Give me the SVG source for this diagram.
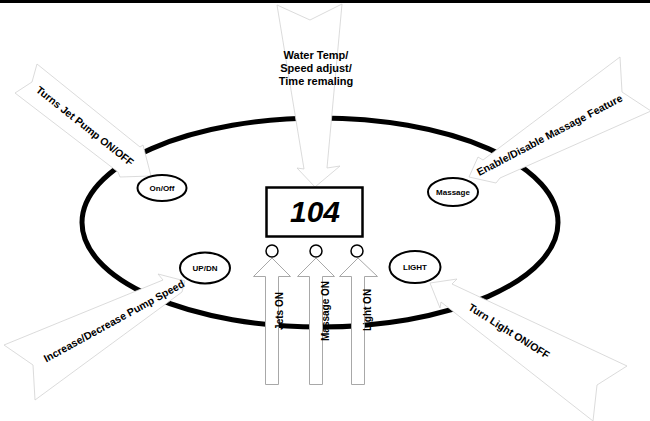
<svg xmlns="http://www.w3.org/2000/svg" width="650" height="421" viewBox="0 0 650 421">
<style>
.lbl{font-family:"Liberation Sans",Arial,sans-serif;font-weight:bold;fill:#000;text-anchor:middle}
.arr{fill:#fff;stroke:#d2d2d2;stroke-width:0.8;stroke-linejoin:miter}
.varr{fill:#fff;stroke:#a8a8a8;stroke-width:1}
.btn{fill:#fff;stroke:#000;stroke-width:2}
</style>
<rect x="0" y="0" width="650" height="3" fill="#000"/>
<g id="tub">
<ellipse cx="320" cy="222.5" rx="238" ry="104.5" fill="none" stroke="#000" stroke-width="5"/>
</g>
<g id="connectors">
<polygon class="arr" points="277,5 310,20 342,4 327,168 340,166 315,187 297,168 304,169"/>
<polygon class="arr" points="37,64 140,147 143,145 151,176 120,177 118,172 15,93 32,82"/>
<polygon class="arr" points="620,57 483,160 478,157 469,177 496,183 500,178 651,111 622,92"/>
<polygon class="arr" points="4,345 163,280 158,274 185,281 182,292 35,400 33,365"/>
<polygon class="arr" points="430,283 457,279 452,284 627,366 597,385 593,421 441,302 440,308"/>
<polygon class="varr" points="272,258 290.5,276.5 278.5,276.5 278.5,384.5 265.5,384.5 265.5,276.5 253.5,276.5"/>
<polygon class="varr" points="316,258 334.5,276.5 322.5,276.5 322.5,384.5 309.5,384.5 309.5,276.5 297.5,276.5"/>
<polygon class="varr" points="358,258 377.5,276.5 364.5,276.5 364.5,384.5 351.5,384.5 351.5,276.5 339.5,276.5"/>
</g>
<g id="water-temp-label">
<text class="lbl" font-size="11" x="316" y="59">Water Temp/</text>
<text class="lbl" font-size="11" x="316" y="72">Speed adjust/</text>
<text class="lbl" font-size="11" x="316" y="85">Time remaling</text>
</g>
<g id="turns-label"><text class="lbl" font-size="10.5" transform="translate(85,126) rotate(38.5)" y="3.7">Turns Jet Pump ON/OFF</text></g>
<g id="enable-label"><text class="lbl" font-size="10.5" transform="translate(549.5,135) rotate(-27.7)" y="3.7">Enable/Disable Massage Feature</text></g>
<g id="increase-label"><text class="lbl" font-size="10.5" transform="translate(114,321) rotate(-28.8)" y="3.7">Increase/Decrease Pump Speed</text></g>
<g id="light-label"><text class="lbl" font-size="10.5" transform="translate(509,331) rotate(32.2)" y="3.7">Turn Light ON/OFF</text></g>
<g id="onoff"><ellipse class="btn" cx="162" cy="188" rx="24.5" ry="13"/><text class="lbl" font-size="8" x="162" y="191">On/Off</text></g>
<g id="massage"><ellipse class="btn" cx="453" cy="192" rx="25" ry="14"/><text class="lbl" font-size="8" x="453" y="195">Massage</text></g>
<g id="updn"><ellipse class="btn" cx="205" cy="268" rx="25" ry="15.5"/><text class="lbl" font-size="8" x="205" y="271">UP/DN</text></g>
<g id="light"><ellipse class="btn" cx="415" cy="267" rx="25.5" ry="16"/><text class="lbl" font-size="8" x="415" y="270">LIGHT</text></g>
<g id="display">
<rect x="266.5" y="187.5" width="96" height="49" fill="#fff" stroke="#000" stroke-width="2.5"/>
<text class="lbl" font-size="30" font-style="italic" x="315" y="222">104</text>
</g>
<g id="leds">
<circle cx="272" cy="251" r="6" fill="#fff" stroke="#000" stroke-width="1.5"/>
<circle cx="316" cy="251" r="6" fill="#fff" stroke="#000" stroke-width="1.5"/>
<circle cx="357" cy="251" r="6" fill="#fff" stroke="#000" stroke-width="1.5"/>
</g>
<g id="jets-on"><text class="lbl" font-size="10" transform="translate(279,311) rotate(-90)" y="3.5">Jets ON</text></g>
<g id="massage-on"><text class="lbl" font-size="10" transform="translate(325,311) rotate(-90)" y="3.5">Massage ON</text></g>
<g id="light-on"><text class="lbl" font-size="10" transform="translate(367,310) rotate(-90)" y="3.5">Light ON</text></g>
</svg>
